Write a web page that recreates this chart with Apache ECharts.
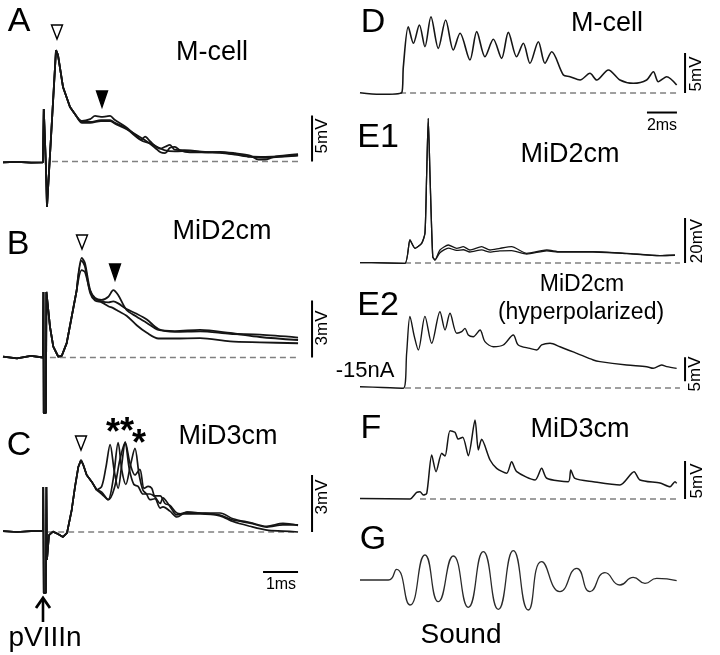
<!DOCTYPE html>
<html><head><meta charset="utf-8">
<script src="https://cdn.jsdelivr.net/npm/echarts@6/dist/echarts.min.js"></script>
<style>html,body{margin:0;padding:0;background:#fff}#c{width:720px;height:655px}</style>
</head><body><div id="c"></div>
<script>
// ---------- DATA (time in ms, voltage in mV) ----------
// Panel A (M-cell, 3 sweeps)
const aOnset = [[-1.2,-0.1],[-0.8,-0.05],[-0.4,-0.12],[-0.06,-0.1],[-0.035,5.71],[0.005,5.71],[0.025,-0.38],[0.057,-4.95],[0.314,12.1],[0.37,11.6],[0.514,8.1],[0.714,5.92],[0.914,4.84]];
const aTail1 = [[1.06,4.4],[1.29,4.6],[1.43,4.95],[1.6,4.85],[1.75,4.9],[1.86,4.95],[2.0,4.5],[2.29,3.8],[2.57,2.9],[2.75,2.4],[2.86,2.7],[3.0,2.2],[3.14,1.7],[3.3,1.4],[3.43,1.6],[3.57,1.8],[3.7,1.3],[4.14,1.2],[4.57,1.05],[5.0,1.0],[5.43,0.8],[5.86,0.55],[6.29,0.5],[6.71,0.55],[7.23,0.7]];
const aTail2 = [[1.06,4.3],[1.29,4.3],[1.6,4.5],[1.86,4.5],[2.0,4.2],[2.29,3.7],[2.57,2.8],[2.8,2.2],[3.0,2.0],[3.2,1.6],[3.43,1.2],[3.71,1.1],[4.14,1.15],[4.57,1.0],[5.0,1.05],[5.43,0.9],[5.86,0.65],[6.1,0.2],[6.29,0.2],[6.5,0.45],[6.71,0.6],[7.23,0.8]];
const aTail3 = [[1.06,4.2],[1.29,4.2],[1.6,4.4],[1.86,4.4],[2.0,4.1],[2.29,3.6],[2.57,3.0],[2.86,2.3],[3.14,1.5],[3.3,1.0],[3.43,0.9],[3.57,1.5],[3.71,1.6],[3.86,1.2],[4.14,1.0],[4.57,1.0],[5.0,0.95],[5.43,0.75],[5.86,0.5],[6.29,0.4],[6.71,0.5],[7.23,0.65]];
// Panel B (MiD2cm, 3 sweeps)
const bOnset = [[-1.2,0.05],[-0.8,-0.05],[-0.4,0.08],[-0.06,0.0],[-0.045,3.45],[-0.035,-2.92],[0.025,-2.92],[0.04,3.45],[0.094,3.39],[0.143,1.61],[0.237,0.57],[0.38,0.04],[0.477,0.08],[0.62,0.76],[0.763,2.15],[0.906,3.55]];
const bTail1 = [[1.05,5.24],[1.14,4.97],[1.29,3.55],[1.43,3.13],[1.62,3.03],[1.81,3.2],[1.95,3.55],[2.09,3.29],[2.33,2.5],[2.62,2.15],[2.91,1.82],[3.24,1.45],[3.71,1.39],[4.43,1.45],[5.29,1.29],[6.14,1.08],[7.23,0.92]];
const bTail2 = [[1.05,4.6],[1.14,4.5],[1.29,3.5],[1.43,3.1],[1.62,2.95],[1.81,2.9],[1.95,2.95],[2.09,2.85],[2.33,2.55],[2.62,2.3],[2.91,2.0],[3.24,1.5],[3.71,1.35],[4.43,1.38],[5.29,1.25],[6.14,1.2],[7.23,1.05]];
const bTail3 = [[1.05,5.1],[1.14,4.8],[1.29,3.4],[1.43,3.0],[1.62,2.9],[1.81,2.7],[1.95,2.6],[2.09,2.45],[2.33,2.2],[2.62,1.7],[2.91,1.3],[3.24,1.0],[3.71,1.0],[4.43,1.02],[5.29,0.85],[6.14,0.8],[7.23,0.75]];
// Panel C (MiD3cm, 3 sweeps)
const cOnset = [[-1.2,0.05],[-0.8,0.0],[-0.4,0.05],[-0.057,0.05],[-0.05,2.37],[-0.035,-3.21],[0.025,-3.21],[0.04,2.37],[0.057,-1.47],[0.114,-0.16],[0.229,0.02],[0.371,-0.1],[0.514,-0.26],[0.629,-0.05],[0.763,1.16],[0.857,2.37],[0.951,3.42],[1.029,3.79],[1.094,3.53],[1.191,3.0],[1.334,2.65],[1.477,2.21]];
const cTail1 = [[1.62,2.4],[1.74,3.4],[1.86,4.6],[1.98,3.2],[2.09,2.3],[2.19,3.5],[2.29,4.75],[2.41,3.3],[2.54,2.5],[2.66,2.4],[2.8,2.0],[2.93,2.0],[3.0,2.0],[3.14,1.85],[3.29,1.5],[3.37,1.8],[3.57,1.35],[3.77,0.9],[4.06,1.05],[4.43,1.0],[5.0,1.0],[5.37,0.7],[5.86,0.5],[6.34,0.3],[6.8,0.45],[7.23,0.35]];
const cTail2 = [[1.62,2.0],[1.8,1.7],[1.95,2.8],[2.09,4.7],[2.2,3.2],[2.31,2.5],[2.44,3.5],[2.57,4.4],[2.69,3.0],[2.8,2.2],[2.9,2.0],[3.0,1.7],[3.14,1.75],[3.29,1.26],[3.37,1.32],[3.57,1.1],[3.77,0.79],[4.06,1.05],[4.43,1.0],[5.0,0.89],[5.37,0.63],[5.86,0.47],[6.34,0.26],[6.8,0.37],[7.23,0.37]];
const cTail3 = [[1.62,2.1],[1.81,1.7],[1.98,2.3],[2.14,3.8],[2.29,4.7],[2.43,3.6],[2.57,3.0],[2.71,3.3],[2.83,2.3],[2.95,2.4],[3.05,2.3],[3.14,1.9],[3.29,1.9],[3.43,1.5],[3.57,1.4],[3.77,1.0],[4.06,0.95],[4.43,0.95],[5.0,0.85],[5.37,0.55],[5.86,0.3],[6.34,0.1],[6.8,0.05],[7.23,0.0]];
// Panel D (M-cell, sound response)
const dTrace = [[0,0.04],[1.33,-0.16],[2.78,0.04],[2.89,3.29],[3.22,8.29],[3.56,6.21],[3.96,8.5],[4.33,5.79],[4.73,9.54],[5.22,5.58],[5.71,9.13],[6.22,5.38],[6.67,7.46],[7.33,4.13],[7.78,7.67],[8.33,4.54],[8.89,6.71],[9.44,4.33],[9.89,7.58],[10.44,4.54],[10.89,6.21],[11.33,3.71],[11.89,6.41],[12.33,3.71],[12.78,5.16],[13.56,2.25],[14.0,2.04],[14.67,1.63],[15.33,2.46],[15.78,1.63],[16.56,2.88],[17.33,1.63],[18.22,1.21],[19.11,1.63],[19.56,2.66],[19.89,1.41],[20.44,2.04],[21.11,1.0]];
// Panel E1 (MiD2cm, 2 sweeps)
const e1Onset = [[0,0.2],[1.5,0.1],[3.0,-0.13],[3.33,10.22],[3.67,6.53],[4.11,8.76],[4.33,13.2],[4.44,38.36],[4.55,64.3],[4.67,38.36],[4.85,2.8],[5.0,1.33]];
const e1Tail1 = [[5.33,5.78],[5.89,8.0],[6.45,6.53],[6.89,7.24],[7.33,5.78],[8.11,7.24],[8.67,5.78],[9.33,6.53],[10.11,7.24],[11.11,4.31],[12.45,5.78],[13.33,5.02],[15.53,5.02],[17.78,4.31],[20.0,3.24],[21.0,3.56]];
const e1Tail2 = [[5.33,4.6],[5.89,6.6],[6.45,5.6],[6.89,5.9],[7.33,4.9],[8.11,5.8],[8.67,4.8],[9.33,5.4],[10.11,5.5],[11.11,4.0],[12.45,5.4],[13.33,4.8],[15.53,4.9],[17.78,4.2],[20.0,3.3],[21.0,3.4]];
// Panel E2 (MiD2cm hyperpolarized)
const e2Trace = [[0,0.27],[1.5,0.1],[2.89,-0.06],[3.11,7.29],[3.33,14.93],[3.62,10.76],[3.89,7.92],[4.33,14.93],[4.78,9.31],[5.33,15.9],[5.67,12.08],[6.0,15.56],[6.45,11.4],[6.78,11.73],[7.0,12.43],[7.22,11.04],[7.55,10.69],[8.0,12.08],[8.33,9.65],[8.89,8.6],[9.55,8.96],[10.22,11.04],[10.55,8.96],[11.33,8.26],[11.78,7.92],[12.11,8.96],[12.67,9.31],[13.33,8.6],[14.45,7.22],[15.55,5.83],[16.0,5.49],[17.78,4.79],[19.11,4.44],[19.55,4.1],[20.11,4.79],[20.45,4.44],[21.11,4.1]];
// Panel F (MiD3cm)
const fTrace = [[0,0.07],[3.33,0.0],[3.78,0.88],[4.0,0.96],[4.22,0.53],[4.45,0.75],[4.78,5.79],[5.07,3.59],[5.45,6.01],[5.67,5.66],[6.0,8.99],[6.33,8.78],[6.55,7.89],[6.85,8.12],[7.22,5.7],[7.67,10.39],[7.89,6.45],[8.11,7.85],[8.67,5.13],[9.11,4.04],[9.78,3.38],[10.11,4.91],[10.45,3.6],[11.67,2.5],[12.11,4.04],[12.45,2.73],[13.89,2.28],[14.05,3.82],[14.33,2.72],[15.55,2.28],[17.33,1.84],[18.27,3.59],[18.67,2.5],[20.0,2.1],[20.67,1.62],[21.0,2.28],[21.11,2.06]];
// Panel G (sound waveform, arbitrary units): extrema
const gTrace = [[0,0],[1.89,0],[2.44,1.07],[3.33,-2.5],[4.33,2.5],[5.22,-2.17],[6.22,2.4],[7.22,-2.73],[8.22,2.83],[9.22,-2.93],[10.22,2.93],[11.22,-3.0],[12.11,1.83],[13.33,-1.17],[14.45,1.17],[15.33,-1.17],[16.33,0.73],[17.33,-0.5],[18.22,0.27],[19.0,-0.33],[19.78,0.17],[21.11,-0.07]];
// Baselines (start, end in ms) and scale bars
const baseA = [0.2,7.23], baseB = [0.14,7.23], baseC = [0.09,7.23];
const baseD = [2.67,21.33], baseE1 = [3.0,21.33], baseE2 = [3.0,21.33], baseF = [4.0,21.33];
const barA = [0,5], barB = [0,3], barC = [0,3];
const barD = [0,5], barE1 = [0,20], barE2 = [1.4,6.4], barF = [0,5];
const barTimeC = [6.23,7.23], barTimeD = [19.13,21.13];

// ---------- LAYOUT ----------
const panels = [
  {id:'A', x0:45, xppu:35, xMin:-1.2, xMax:7.8, base:161.5, yppu:9.2, yMin:-6, yMax:14},
  {id:'B', x0:45, xppu:35, xMin:-1.2, xMax:7.8, base:357.5, yppu:19, yMin:-3.5, yMax:6},
  {id:'C', x0:45, xppu:35, xMin:-1.2, xMax:7.8, base:532, yppu:19, yMin:-3.5, yMax:5},
  {id:'D', x0:360, xppu:15, xMin:0, xMax:22, base:93, yppu:8, yMin:-3, yMax:11},
  {id:'E1', x0:360, xppu:15, xMin:0, xMax:22, base:263, yppu:2.25, yMin:-4, yMax:68},
  {id:'E2', x0:360, xppu:15, xMin:0, xMax:22, base:388, yppu:4.8, yMin:-2, yMax:17},
  {id:'F', x0:360, xppu:15, xMin:0, xMax:22, base:499, yppu:7.6, yMin:-2, yMax:12},
  {id:'G', x0:360, xppu:15, xMin:0, xMax:22, base:580, yppu:10, yMin:-4, yMax:4}
];
const idx = {}; panels.forEach((p,i)=>idx[p.id]=i);
const grid = panels.map(p=>({left:p.x0+p.xMin*p.xppu, top:p.base-p.yMax*p.yppu,
  width:(p.xMax-p.xMin)*p.xppu, height:(p.yMax-p.yMin)*p.yppu, containLabel:false}));
const xAxis = panels.map((p,i)=>({gridIndex:i,type:'value',min:p.xMin,max:p.xMax,show:false}));
const yAxis = panels.map((p,i)=>({gridIndex:i,type:'value',min:p.yMin,max:p.yMax,show:false}));

const INK = '#151515';
const series = [];
function trace(pid, data, opt={}) {
  series.push(Object.assign({type:'line', xAxisIndex:idx[pid], yAxisIndex:idx[pid], data,
    symbol:'none', smooth:0.25, silent:true, animation:false,
    lineStyle:{color:INK, width:1.6}}, opt));
}
// onset (stimulus artifact) drawn straight, sweep tails smoothed
function sweep(pid, onset, tail, w) {
  trace(pid, onset, {smooth:false, lineStyle:{color:INK, width:w}});
  trace(pid, [onset[onset.length-1]].concat(tail), {smooth:0.3, lineStyle:{color:INK, width:w}});
}
function dashed(pid, r) {
  trace(pid, [[r[0],0],[r[1],0]], {smooth:false, lineStyle:{color:'#808080', width:1.3, type:[6,4]}});
}
function vbar(pid, t, r) {
  trace(pid, [[t,r[0]],[t,r[1]]], {smooth:false, lineStyle:{color:'#000', width:2}});
}
function hbar(pid, r, v) {
  trace(pid, [[r[0],v],[r[1],v]], {smooth:false, lineStyle:{color:'#000', width:2}});
}
[['A',baseA],['B',baseB],['C',baseC],['D',baseD],['E1',baseE1],['E2',baseE2],['F',baseF]].forEach(d=>dashed(d[0],d[1]));
sweep('A', aOnset, aTail3, 1.8); sweep('A', aOnset, aTail2, 1.8); sweep('A', aOnset, aTail1, 1.8);
sweep('B', bOnset, bTail3, 1.8); sweep('B', bOnset, bTail2, 1.8); sweep('B', bOnset, bTail1, 1.8);
sweep('C', cOnset, cTail3, 1.7); sweep('C', cOnset, cTail2, 1.7); sweep('C', cOnset, cTail1, 1.7);
trace('D', dTrace, {smooth:0.3, lineStyle:{color:INK, width:1.6}});
trace('E1', e1Onset.concat(e1Tail2), {smooth:0.2, lineStyle:{color:INK, width:1.3}});
trace('E1', e1Onset.concat(e1Tail1), {smooth:0.2, lineStyle:{color:INK, width:1.3}});
trace('E2', e2Trace, {smooth:0.3, lineStyle:{color:INK, width:1.4}});
trace('F', fTrace, {smooth:0.25, lineStyle:{color:INK, width:1.5}});
trace('G', gTrace, {smooth:0.55, lineStyle:{color:'#2a2a2a', width:1.3}});
vbar('A',7.63,barA); vbar('B',7.63,barB); vbar('C',7.63,barC);
vbar('D',21.67,barD); vbar('E1',21.67,barE1); vbar('E2',21.67,barE2); vbar('F',21.67,barF);
hbar('C',barTimeC,-2.1); hbar('D',barTimeD,-2.44);

// ---------- ANNOTATIONS ----------
const FONT = '"Liberation Sans", Arial, sans-serif';
function txt(s, x, y, size, opt={}) {
  return {type:'text', x, y, silent:true,
    style:{text:s, font:`${opt.weight||'normal'} ${size}px ${FONT}`, fill:'#000',
      align:'center', verticalAlign:'middle'}};
}
function vtxt(s, x, y, size) {
  return {type:'text', x, y, rotation:Math.PI/2, silent:true,
    style:{text:s, font:`${size}px ${FONT}`, fill:'#000', align:'center', verticalAlign:'middle'}};
}
function tri(cx, top, bottom, w, filled) {
  return {type:'polygon', silent:true, shape:{points:[[cx-w/2,top],[cx+w/2,top],[cx,bottom]]},
    style:{fill:filled?'#000':'#fff', stroke:'#000', lineWidth:1.4}};
}
const graphic = [
  txt('A',19,22,34), txt('B',18,245,34), txt('C',19,446,34),
  txt('D',373,23,34), txt('E1',378,138,34), txt('E2',378,306,34), txt('F',371,429,34), txt('G',373,540,34),
  txt('M-cell',212,53,27), txt('MiD2cm',222,232,27), txt('MiD3cm',228,437,27),
  txt('M-cell',607,24,27), txt('MiD2cm',570,155,27),
  txt('MiD2cm',582,285,23), txt('(hyperpolarized)',581,313,23),
  txt('-15nA',365,371,22), txt('MiD3cm',580,430,27),
  txt('Sound',461,635,28), txt('pVIIIn',45,638,28),
  txt('1ms',281,585,16), txt('2ms',662,126,16),
  vtxt('5mV',322,136,17), vtxt('3mV',322,328,17), vtxt('3mV',322,497,17),
  vtxt('5mV',696,74,17), vtxt('20mV',697,241,17), vtxt('5mV',695,374,17), vtxt('5mV',697,481,17),
  tri(57,25,39,11,false), tri(102,91,107,11,true),
  tri(82,235,249,11,false), tri(115,264,280,11,true),
  tri(81,436,450,11,false),
  txt('*',113,434,36,{weight:'bold'}), txt('*',127,433,36,{weight:'bold'}), txt('*',139,445,36,{weight:'bold'}),
  {type:'line', silent:true, shape:{x1:43,y1:622,x2:43,y2:600}, style:{stroke:'#000', lineWidth:2.6}},
  {type:'polyline', silent:true, shape:{points:[[36,608],[43,598],[50,608]]}, style:{stroke:'#000', lineWidth:2.8, fill:null}}
];

const chart = echarts.init(document.getElementById('c'), null, {renderer:'canvas'});
chart.setOption({backgroundColor:'#fff', animation:false, grid, xAxis, yAxis, series, graphic});
</script></body></html>
